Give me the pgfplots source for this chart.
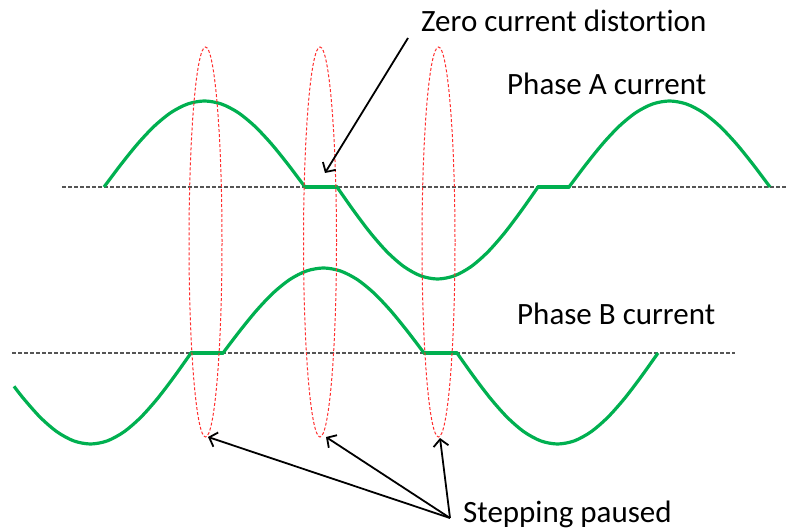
\documentclass[border=0pt]{standalone}
\usepackage{fontspec}
\setmainfont{Carlito}[Ligatures=NoCommon]
\usepackage{pgfplots}
\pgfplotsset{compat=1.18}
\usetikzlibrary{arrows.meta}
\definecolor{wavegreen}{HTML}{00B050}
\definecolor{ringred}{HTML}{FF2E2E}
\definecolor{basegray}{HTML}{555555}
\pgfplotsset{
  wave/.style={wavegreen, line width=3.2pt, line join=round, smooth},
  flat/.style={wavegreen, line width=3.2pt, line cap=round},
}

\begin{document}
\begin{tikzpicture}
\begin{axis}[
  hide axis,
  scale only axis,
  width=788pt, height=531pt,
  xmin=0, xmax=788, ymin=0, ymax=531,
  clip=false,
]
% zero lines
\addplot[basegray, line width=1.2pt, dash pattern=on 3.5pt off 2.5pt] coordinates {(62,344) (788,344)};
\addplot[basegray, line width=1.2pt, dash pattern=on 3.5pt off 2.5pt] coordinates {(12,178) (735,178)};

% phase A current
\addplot[wave] coordinates {
  (104,344) (120.75,366.26) (137.5,387) (154.25,404.81) (171,418.48) (187.75,427.07)
  (204.5,430) (221.25,427.07) (238,418.48) (254.75,404.81) (271.5,387) (288.25,366.26)
  (305,344)};
\addplot[flat] coordinates {(305,344) (337,344)};
\addplot[wave] coordinates {
  (337,344) (353.75,320.19) (370.5,298) (387.25,278.95) (404,264.33) (420.75,255.14)
  (437.5,252) (454.25,255.14) (471,264.33) (487.75,278.95) (504.5,298) (521.25,320.19)
  (538,344)};
\addplot[flat] coordinates {(538,344) (569,344)};
\addplot[wave] coordinates {
  (569,344) (585.75,366.26) (602.5,387) (619.25,404.81) (636,418.48) (652.75,427.07)
  (669.5,430) (686.25,427.07) (703,418.48) (719.75,404.81) (736.5,387) (753.25,366.26)
  (770,344)};

% phase B current
\addplot[wave] coordinates {
  (14,144.67) (23.5,132.5) (40.25,113.65) (57,99.19) (73.75,90.1)
  (90.5,87) (107.25,90.1) (124,99.19) (140.75,113.65) (157.5,132.5) (174.25,154.45)
  (191,178)};
\addplot[flat] coordinates {(191,178) (223,178)};
\addplot[wave] coordinates {
  (223,178) (239.75,200) (256.5,220.5) (273.25,238.1) (290,251.61) (306.75,260.1)
  (323.5,263) (340.25,260.1) (357,251.61) (373.75,238.1) (390.5,220.5) (407.25,200)
  (424,178)};
\addplot[flat] coordinates {(424,178) (457,178)};
\addplot[wave] coordinates {
  (457,178) (473.75,154.45) (490.5,132.5) (507.25,113.65) (524,99.19) (540.75,90.1)
  (557.5,87) (574.25,90.1) (591,99.19) (607.75,113.65) (624.5,132.5) (641.25,154.45)
  (658,178)};

% pause markers
\draw[ringred, line width=1pt, dash pattern=on 3pt off 2pt] (axis cs:205.5,289) ellipse [x radius=16.5pt, y radius=195pt];
\draw[ringred, line width=1pt, dash pattern=on 3pt off 2pt] (axis cs:320,289) ellipse [x radius=16.5pt, y radius=195pt];
\draw[ringred, line width=1pt, dash pattern=on 3pt off 2pt] (axis cs:438.5,289) ellipse [x radius=16.5pt, y radius=195pt];

% arrows
\draw[-{Straight Barb[length=7pt,width=15pt]}, line width=1.8pt] (axis cs:408,493) -- (axis cs:325,358);
\draw[-{Straight Barb[length=7pt,width=15pt]}, line width=1.8pt] (axis cs:450,13) -- (axis cs:208,94);
\draw[-{Straight Barb[length=7pt,width=15pt]}, line width=1.8pt] (axis cs:450,13) -- (axis cs:326,94);
\draw[-{Straight Barb[length=7pt,width=15pt]}, line width=1.8pt] (axis cs:450,13) -- (axis cs:440,93);

% labels
\node[anchor=base west, inner sep=0pt, font=\fontsize{31}{36}\selectfont] at (axis cs:421,499) {Zero current distortion};
\node[anchor=base west, inner sep=0pt, font=\fontsize{31}{36}\selectfont] at (axis cs:507,436) {Phase A current};
\node[anchor=base west, inner sep=0pt, font=\fontsize{31}{36}\selectfont] at (axis cs:517,206) {Phase B current};
\node[anchor=base west, inner sep=0pt, font=\fontsize{31}{36}\selectfont] at (axis cs:463,9) {Stepping paused};
\end{axis}
\pgfresetboundingbox
\path (0,0) rectangle (788pt,531pt);
\end{tikzpicture}
\end{document}
